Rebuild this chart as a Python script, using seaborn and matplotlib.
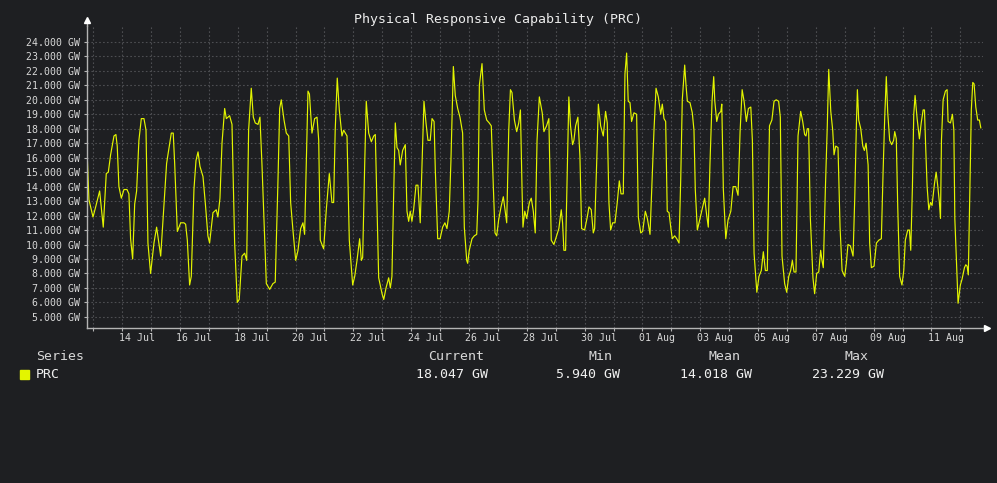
import pandas as pd
import matplotlib.pyplot as plt
import matplotlib.patches as mpatches
import seaborn as sns

# hours after 13 Jul 00:00 and PRC value in GW
hours = [-5.5, -3.6, -0.2, 2.0, 5.3, 6.6, 8.3, 10.8, 12.5, 14.4, 17.2, 18.8, 19.9, 21.3, 23.3, 25.5,
         28.0, 29.6, 31.0, 32.7, 34.4, 36.0, 37.9, 39.9, 42.1, 43.8, 45.4, 47.6, 50.4, 52.6, 56.0, 58.1,
         60.9, 62.9, 64.8, 66.4, 67.6, 69.8, 72.6, 75.3, 76.7, 78.1, 80.0, 81.4, 83.6, 85.3, 87.0, 88.6,
         91.1, 93.0, 95.2, 96.6, 99.4, 102.1, 103.5, 105.2, 106.9, 109.1, 110.5, 113.2, 115.2, 117.4,
         119.6, 121.2, 123.5, 125.7, 127.4, 129.0, 131.2, 132.9, 134.5, 136.8, 138.4, 140.1, 143.7,
         146.5, 149.2, 151.1, 153.4, 154.8, 156.1, 158.4, 160.3, 162.3, 163.9, 165.8, 168.1, 170.0,
         172.2, 174.1, 175.5, 176.9, 178.3, 179.5, 181.6, 183.8, 185.8, 187.2, 188.5, 191.3, 193.5,
         196.0, 198.2, 199.6, 200.9, 202.6, 204.3, 206.5, 207.9, 210.7, 212.6, 215.4, 217.1, 219.0,
         221.2, 222.6, 223.7, 225.4, 226.7, 228.7, 230.9, 232.9, 234.2, 237.0, 239.8, 241.2, 243.1,
         245.3, 246.7, 248.0, 249.4, 250.8, 252.2, 253.6, 254.9, 256.9, 259.1, 260.5, 261.9, 263.2,
         264.6, 266.0, 268.0, 269.6, 271.5, 273.0, 274.6, 276.3, 277.9, 279.8, 281.3, 283.0, 284.0,
         286.0, 288.0, 290.1, 292.0, 293.7, 295.6, 297.0, 299.0, 300.6, 302.6, 304.5, 306.7, 308.1,
         310.1, 310.9, 312.2, 314.5, 316.4, 318.4, 319.5, 320.6, 322.8, 324.7, 326.7, 328.8, 330.5,
         332.2, 333.6, 335.0, 336.6, 338.6, 340.5, 341.9, 343.3, 345.0, 346.4, 347.7, 349.7, 351.6,
         353.3, 354.7, 356.0, 356.8, 358.3, 359.9, 362.1, 363.7, 365.4, 367.0, 368.5, 370.4, 372.8,
         374.2, 376.4, 378.3, 380.3, 382.5, 384.7, 386.6, 388.6, 389.7, 390.8, 392.2, 393.6, 394.9,
         396.3, 398.0, 399.1, 400.5, 402.4, 404.1, 405.5, 408.0, 410.2, 411.6, 413.5, 415.2, 416.3,
         418.0, 419.4, 421.3, 423.5, 425.4, 426.8, 428.2, 429.6, 431.3, 433.2, 435.1, 436.8, 438.2,
         440.1, 441.5, 442.9, 444.2, 445.7, 447.0, 449.0, 451.2, 452.6, 454.6, 456.2, 458.4, 460.1,
         462.3, 463.7, 465.6, 467.3, 469.2, 471.2, 472.5, 473.9, 475.3, 476.6, 478.1, 479.5, 480.8,
         482.8, 484.5, 486.4, 487.8, 489.1, 491.1, 492.2, 493.3, 495.5, 497.4, 498.8, 499.9, 501.6,
         503.8, 505.7, 507.7, 509.4, 510.7, 512.1, 513.8, 515.2, 516.1, 517.7, 519.1, 521.1, 521.9,
         523.2, 525.2, 527.1, 529.4, 531.3, 533.5, 535.4, 537.1, 538.8, 540.4, 542.3, 544.0, 546.0,
         547.3, 548.7, 551.0, 552.8, 554.7, 556.4, 558.1, 559.7, 561.5, 563.5, 565.3, 567.1, 569.1,
         570.5, 571.9, 574.1, 575.8, 577.5, 579.1, 580.5, 581.9, 583.5, 585.2, 587.4, 589.1, 590.7,
         591.8, 592.9, 594.0, 595.4, 597.6, 599.0, 600.7, 602.4, 604.0, 605.1, 606.2, 607.9, 609.5,
         610.7, 612.4, 614.0, 615.1, 616.5, 618.4, 620.1, 621.8, 624.0, 625.3, 626.7, 628.7, 630.9,
         632.3, 633.7, 634.5, 635.6, 637.3, 639.0, 640.3, 641.7, 643.4, 644.7, 646.1, 648.3, 650.3,
         652.3, 654.4, 655.8, 657.2, 658.5, 659.7, 661.3, 663.0, 664.6, 665.5, 666.8, 668.0, 669.6,
         671.5, 673.0, 674.3, 676.3, 677.7, 678.8, 680.2, 681.3, 682.4, 684.1, 686.0, 687.5, 689.1,
         690.2, 691.3, 692.4, 693.8, 695.2, 696.5, 698.5, 699.9, 701.3, 702.6, 703.5, 704.3, 705.7,
         707.6, 709.0, 709.8, 711.8, 713.4, 714.6, 715.4, 716.8, 718.1, 720.0, 721.4, 723.4, 724.5,
         725.6, 726.6, 727.8, 729.1, 730.3, 731.4, 732.8, 734.4, 735.8, 737.0]
prc_gw = [17.2, 13.1, 11.9, 12.6, 13.7, 12.6, 11.2, 14.9, 15.0, 16.2, 17.5, 17.6, 16.8, 14.0, 13.2, 13.8,
          13.8, 13.5, 10.4, 9.0, 12.8, 13.7, 17.2, 18.7, 18.7, 17.9, 10.1, 8.0, 10.1, 11.2, 9.2, 11.9,
          15.6, 16.7, 17.7, 17.7, 15.6, 10.9, 11.5, 11.5, 11.4, 10.3, 7.2, 7.8, 13.8, 15.8, 16.4, 15.4,
          14.7, 12.9, 10.6, 10.1, 12.2, 12.4, 11.9, 13.2, 17.0, 19.4, 18.7, 18.9, 18.3, 10.1,
          6.0, 6.2, 9.2, 9.4, 8.9, 17.9, 20.8, 18.8, 18.4, 18.3, 18.8, 15.5, 7.3,
          6.9, 7.3, 7.4, 14.5, 19.4, 20.0, 18.6, 17.7, 17.5, 12.9, 11.0, 8.9, 9.6,
          11.1, 11.5, 10.7, 15.6, 20.6, 20.4, 17.7, 18.7, 18.8, 17.2, 10.3, 9.7, 12.4,
          14.9, 12.9, 12.9, 17.9, 21.5, 19.3, 17.5, 17.9, 17.5, 10.3, 7.2, 7.8, 8.9,
          10.4, 8.9, 9.1, 15.6, 19.9, 17.7, 17.1, 17.5, 17.6, 7.7, 6.6, 6.2, 7.0,
          7.7, 7.0, 7.8, 13.3, 18.4, 16.7, 16.5, 15.5, 16.5, 16.9, 12.3, 11.6, 12.3,
          11.6, 12.4, 14.1, 14.1, 11.5, 15.6, 19.9, 18.4, 17.2, 17.2, 18.7, 18.5, 15.2,
          10.4, 10.4, 11.2, 11.5, 11.1, 12.3, 15.8, 22.3, 20.3, 19.4, 18.8, 17.7, 11.2,
          8.9, 8.7, 9.6, 10.4, 10.6, 10.7, 13.1, 21.0, 22.5, 19.3, 18.6, 18.4, 18.2,
          14.0, 10.8, 10.6, 11.7, 12.6, 13.3, 12.4, 11.5, 17.9, 20.7, 20.5, 18.6, 17.8,
          18.4, 19.3, 14.0, 11.2, 12.3, 11.8, 12.9, 13.2, 12.3, 10.8, 17.2, 20.2, 19.1,
          17.8, 18.2, 18.7, 10.3, 10.0, 10.6, 11.1, 12.4, 11.5, 9.6, 9.6, 15.2, 20.2,
          18.2, 16.9, 17.2, 18.2, 18.8, 16.1, 11.1, 11.0, 11.9, 12.6, 12.4, 10.8, 11.1,
          15.6, 19.7, 18.2, 17.5, 19.2, 18.4, 12.9, 11.0, 11.5, 11.5, 12.9, 14.4, 13.5,
          13.5, 21.8, 23.23, 19.9, 19.8, 18.5, 19.1, 19.0, 11.9, 10.8, 10.9, 12.3, 11.8,
          10.7, 13.8, 17.9, 20.8, 20.2, 19.0, 19.7, 18.7, 18.5, 12.3, 12.2, 11.2, 10.4,
          10.6, 10.4, 10.1, 14.5, 20.0, 22.4, 21.0, 19.9, 19.8, 19.1, 17.9, 13.8, 11.0,
          11.8, 12.5, 13.2, 12.0, 11.2, 15.6, 19.9, 21.6, 19.9, 18.5, 19.0, 19.2, 19.7,
          13.8, 10.4, 11.7, 12.3, 14.0, 14.0, 13.4, 17.8, 20.7, 19.9, 18.5, 19.4, 19.5,
          17.2, 9.4, 6.7, 7.8, 8.2, 9.5, 8.2, 8.2, 18.2, 18.6, 19.9, 20.0, 19.9,
          18.8, 9.2, 7.3, 6.7, 7.8, 8.2, 8.9, 8.1, 8.1, 17.5, 19.2, 18.5, 17.6,
          17.5, 18.0, 18.0, 11.9, 7.7, 6.6, 8.0, 8.1, 9.6, 8.9, 8.4, 13.8, 18.2,
          22.1, 19.2, 17.9, 16.2, 16.8, 16.7, 11.2, 8.2, 7.8, 8.7, 10.0, 9.9, 9.2,
          13.2, 18.4, 20.7, 18.6, 18.0, 16.8, 16.5, 17.0, 15.5, 10.1, 8.4, 8.5, 10.1,
          10.3, 10.4, 14.9, 18.8, 21.6, 19.1, 17.2, 16.9, 17.2, 17.8, 17.3, 12.6, 7.8,
          7.2, 8.2, 10.3, 11.0, 11.0, 9.6, 14.0, 19.0, 20.3, 18.7, 17.3, 18.4, 19.3,
          19.3, 16.5, 14.0, 12.4, 12.9, 12.7, 14.2, 15.0, 14.0, 12.9, 11.8, 17.2, 20.0,
          20.6, 20.7, 18.5, 18.4, 19.0, 17.9, 11.8, 8.7, 5.94, 7.2, 7.6, 8.4, 8.6,
          8.5, 7.9, 13.3, 19.3, 21.2, 21.1, 19.5, 18.6, 18.6, 18.05]

y_ticks = list(range(5, 25))
x_labels = ['14 Jul', '16 Jul', '18 Jul', '20 Jul', '22 Jul', '24 Jul', '26 Jul', '28 Jul',
            '30 Jul', '01 Aug', '03 Aug', '05 Aug', '07 Aug', '09 Aug', '11 Aug']
stat_names = ['Current', 'Min', 'Mean', 'Max']
stat_values = ['18.047 GW', '5.940 GW', '14.018 GW', '23.229 GW']

start = pd.Timestamp('2025-07-13')
df = pd.DataFrame({'time': start + pd.to_timedelta(hours, unit='h'), 'PRC': prc_gw})

bg = '#1e1f22'
line_col = '#e3f500'
axis_col = '#b4b4b4'
text_col = '#d8d8d8'
mono = 'DejaVu Sans Mono'

sns.set_theme(style='dark', rc={'figure.facecolor': bg, 'axes.facecolor': bg})
plt.rcParams['font.family'] = [mono]

fig = plt.figure(figsize=(9.97, 4.83), dpi=100)
ax = fig.add_axes([87 / 997, 1 - 328 / 483, (983 - 87) / 997, (328 - 26) / 483])

sns.lineplot(data=df, x='time', y='PRC', ax=ax, color=line_col, linewidth=0.85,
             estimator=None, legend=False)

ax.set_xlim(start + pd.Timedelta(hours=-5.2), start + pd.Timedelta(hours=738.8))
ax.set_ylim(4.23, 25.1)

midnights = pd.date_range('2025-07-13', '2025-08-12', freq='D')
noons = pd.date_range('2025-07-14 12:00', '2025-08-11 12:00', freq='2D')
ax.set_xticks(midnights)
ax.set_xticklabels([])
ax.set_xticks(noons, minor=True)
ax.set_xticklabels(x_labels, minor=True)
ax.set_yticks(y_ticks)
ax.set_yticklabels([f'{v:.3f} GW' for v in y_ticks])

ax.tick_params(axis='x', which='major', length=2.5, width=0.8, color=axis_col, direction='out', bottom=True)
ax.tick_params(axis='x', which='minor', length=0, pad=3.5, labelsize=7.1, labelcolor=text_col)
ax.tick_params(axis='y', length=2.2, width=0.8, color=axis_col, pad=2.6, labelsize=7.1,
               labelcolor=text_col, left=True)

ax.grid(True, which='major', color='#4d4e52', linestyle=(0, (1.5, 2)), linewidth=0.8)
ax.set_xlabel('')
ax.set_ylabel('')
for s in ['top', 'right']:
    ax.spines[s].set_visible(False)
for s in ['left', 'bottom']:
    ax.spines[s].set_color(axis_col)
    ax.spines[s].set_linewidth(1.0)

# axis arrows
ax.plot([0, 0], [1, 1.02], color=axis_col, lw=1.0, transform=ax.transAxes, clip_on=False)
ax.plot(0, 1.02, marker='^', ms=4, color='white', transform=ax.transAxes, clip_on=False)
ax.plot([1, 1.005], [0, 0], color=axis_col, lw=1.0, transform=ax.transAxes, clip_on=False)
ax.plot(1.005, 0, marker='>', ms=4, color='white', transform=ax.transAxes, clip_on=False)

fig.text(498 / 997, 1 - 19 / 483, 'Physical Responsive Capability (PRC)', ha='center', va='center',
         fontsize=9.5, color='#ececec')

# legend table
fig.text(36 / 997, 1 - 356 / 483, 'Series', ha='left', va='center', fontsize=9.5, color=text_col)
fig.add_artist(mpatches.Rectangle((20 / 997, 1 - 379 / 483), 9 / 997, 9 / 483,
                                  transform=fig.transFigure, color=line_col))
fig.text(36 / 997, 1 - 375 / 483, 'PRC', ha='left', va='center', fontsize=9.5, color='#f0f0f0')
head_x = [428, 588, 708, 844]
val_x = [416, 556, 680, 812]
for name, val, hx, vx in zip(stat_names, stat_values, head_x, val_x):
    fig.text(hx / 997, 1 - 356 / 483, name, ha='left', va='center', fontsize=9.5, color=text_col)
    fig.text(vx / 997, 1 - 375 / 483, val, ha='left', va='center', fontsize=9.5, color='#f0f0f0')

fig.savefig('out.png', dpi=100, facecolor=bg)
